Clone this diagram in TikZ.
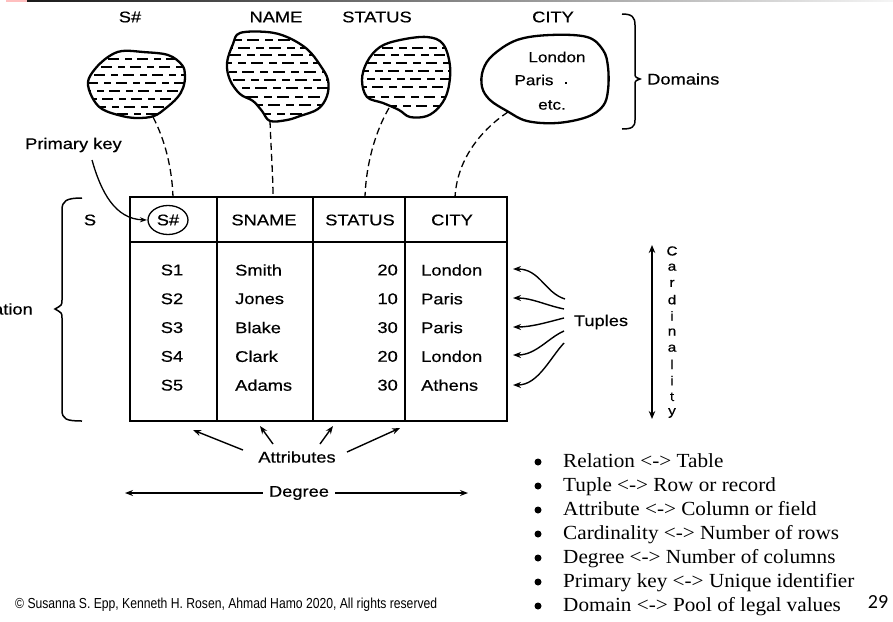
\documentclass[tikz,border=0pt]{standalone}
\usepackage{fontspec}
\setmainfont{Liberation Serif}
\newfontfamily\dsans[FakeStretch=1.18, FakeBold=0.5]{Liberation Sans}
\newfontfamily\listfont[FakeStretch=1.06]{Liberation Serif}
\newfontfamily\carl{Carlito}
\newfontfamily\notefont{Liberation Sans}
\usetikzlibrary{arrows.meta}

\tikzset{
  lbl/.style={font=\dsans\fontsize{15.5}{17}\selectfont, inner sep=0pt},
  small/.style={font=\dsans\fontsize{14.5}{16}\selectfont, inner sep=0pt},
  letter/.style={font=\dsans\fontsize{13}{14}\selectfont, inner sep=0pt},
  blobline/.style={line width=2.3pt, line join=round},
  hatch/.style={line width=1.4pt},
  link/.style={dash pattern=on 7pt off 4pt, line width=1.3pt},
  rule/.style={line width=1.5pt},
  ptr/.style={line width=1.4pt, -{Stealth[length=8pt,width=6pt]}},
  listitem/.style={font=\listfont\fontsize{20}{22}\selectfont, anchor=base west, inner sep=0pt},
}

\begin{document}
\begin{tikzpicture}[x=1pt, y=-1pt]
\useasboundingbox (0,0) rectangle (893,621);
\clip (0,0) rectangle (893,621);
\fill[white] (0,0) rectangle (893,621);

% header rule of the slide
\fill[red!25] (6,0) rectangle (27,1.5);
\shade[left color=black!90, right color=black!4] (27,0) rectangle (893,1.6);

% ---------- domain blobs ----------
% S#
\def\blobS{(108,57) (122,51) (143,52) (168,55) (182,65) (185,76) (183,88) (177,98) (166,108) (154,116) (138,118) (122,116) (102,109) (92,97) (88,82) (95,69)}
\begin{scope}
  \clip plot[smooth cycle, tension=0.6] coordinates {\blobS};
  \foreach \yy [count=\i] in {59,67,75,83,91,99,107,114}
    \draw[hatch, dash pattern=on 11pt off 6pt on 7pt off 5pt, dash phase=\i*7pt] (86,\yy) -- (188,\yy);
\end{scope}
\draw[blobline] plot[smooth cycle, tension=0.6] coordinates {\blobS};

% NAME
\def\blobN{(240,33) (267,32) (287,37) (307,49) (320,65) (328,80) (327,96) (318,109) (300,116) (287,120) (270,121) (262,111) (253,101) (240,94) (230,80) (227,63) (233,44)}
\begin{scope}
  \clip plot[smooth cycle, tension=0.6] coordinates {\blobN};
  \foreach \yy [count=\i] in {40,48,55,63,72,80,88,97,105,114}
    \draw[hatch, dash pattern=on 12pt off 6pt on 8pt off 5pt, dash phase=\i*9pt] (225,\yy) -- (330,\yy);
\end{scope}
\draw[blobline] plot[smooth cycle, tension=0.6] coordinates {\blobN};

% STATUS
\def\blobT{(380,47) (400,40) (427,37) (443,44) (450,66) (448,90) (440,106) (427,116) (410,117) (399,110) (383,103) (367,97) (362,80) (367,62)}
\begin{scope}
  \clip plot[smooth cycle, tension=0.6] coordinates {\blobT};
  \foreach \yy [count=\i] in {48,55,63,71,79,87,97,106}
    \draw[hatch, dash pattern=on 11pt off 6pt on 8pt off 5pt, dash phase=\i*8pt] (360,\yy) -- (452,\yy);
\end{scope}
\draw[blobline] plot[smooth cycle, tension=0.6] coordinates {\blobT};

% CITY
\def\blobC{(493,55) (517,40) (550,35) (587,37) (603,50) (608,67) (608,90) (603,106) (587,117) (557,123) (527,121) (507,111) (490,100) (482,87) (483,70)}
\draw[blobline] plot[smooth cycle, tension=0.6] coordinates {\blobC};
\node[small] (london) at (557,57) {London};
\node[small] (paris) at (534,80) {Paris};
\node[small] (dot) at (566,83) {.};
\node[small] (etc) at (552,105) {etc.};

% domain titles
\node[lbl] (hS) at (130,17) {S\#};
\node[lbl] (hN) at (276,17) {NAME};
\node[lbl] (hT) at (377,17) {STATUS};
\node[lbl] (hC) at (553,17) {CITY};

% domains brace
\draw[line width=1.5pt] (622,14) .. controls (632,14) and (635,17) .. (635,25) -- (635,73)
  .. controls (635,77) .. (640,79) .. controls (635,81) .. (635,85) -- (635,120)
  .. controls (635,127) and (632,129) .. (622,129);
\node[lbl, anchor=west] (dom) at (647,79) {Domains};

% ---------- relation table ----------
\coordinate (tl) at (130,197);
\coordinate (br) at (507,421);
\draw[rule] (tl) rectangle (br);
\draw[rule] (130,242) -- (507,242);
\draw[rule] (217,197) -- (217,421);
\draw[rule] (313,197) -- (313,421);
\draw[line width=2pt] (405,197) -- (405,421);

% column headers
\node[lbl] (kS) at (168,220) {S\#};
\draw[line width=1.3pt] (kS) ellipse (20pt and 14.5pt);
\node[lbl] (kN) at (264,220) {SNAME};
\node[lbl] (kT) at (360,220) {STATUS};
\node[lbl] (kC) at (452,220) {CITY};

% rows
\foreach \id/\nm/\st/\ct [count=\r] in {S1/Smith/20/London, S2/Jones/10/Paris, S3/Blake/30/Paris, S4/Clark/20/London, S5/Adams/30/Athens}{
  \pgfmathsetmacro\yy{270+28.8*(\r-1)}
  \node[lbl] (id\r) at (172,\yy) {\id};
  \node[lbl, anchor=west] (nm\r) at (235,\yy) {\nm};
  \node[lbl, anchor=east] (st\r) at (398,\yy) {\st};
  \node[lbl, anchor=west] (ct\r) at (421,\yy) {\ct};
}

% relation name and brace
\node[lbl] (rS) at (90,220) {S};
\draw[line width=1.5pt] (82,198) .. controls (66,198) and (62,201) .. (62,210) -- (62,300)
  .. controls (62,305) .. (55,309) .. controls (62,313) .. (62,318) -- (62,410)
  .. controls (62,419) and (66,421) .. (82,421);
\node[lbl, anchor=east] (rel) at (33,309) {Relation};

% dashed links from domains to columns
\coordinate (sb) at (153,117);
\coordinate (st) at (173,197);
\coordinate (nb) at (270,121);
\coordinate (nt) at (273,197);
\coordinate (tb) at (389,108);
\coordinate (tt) at (365,197);
\coordinate (cb) at (508,112);
\coordinate (ct) at (455,197);
\draw[link] (sb) .. controls (165,140) and (172,168) .. (st);
\draw[link] (nb) .. controls (271,150) and (273,175) .. (nt);
\draw[link] (tb) .. controls (375,132) and (366,165) .. (tt);
\draw[link] (cb) .. controls (478,132) and (457,162) .. (ct);

% primary key
\node[lbl, anchor=west] (pk) at (25,145) {Primary key};
\coordinate (pks) at (92,160);
\coordinate (pke) at (147,220);
\draw[line width=1.3pt, -{Stealth[length=7pt,width=5pt]}] (pks) .. controls (101,192) and (115,219) .. (pke);

% ---------- tuples ----------
\node[lbl] (tup) at (601,322) {Tuples};
\coordinate (u1) at (565,299); \coordinate (v1) at (513,269);
\coordinate (u2) at (564,309); \coordinate (v2) at (513,298);
\coordinate (u3) at (564,318); \coordinate (v3) at (513,327);
\coordinate (u4) at (564,331); \coordinate (v4) at (513,355);
\coordinate (u5) at (564,343); \coordinate (v5) at (513,385);
\draw[ptr] (u1) .. controls (545,293) and (540,269) .. (v1);
\draw[ptr] (u2) .. controls (545,305) and (532,298) .. (v2);
\draw[ptr] (u3) .. controls (548,322) and (532,327) .. (v3);
\draw[ptr] (u4) .. controls (548,338) and (536,355) .. (v4);
\draw[ptr] (u5) .. controls (550,358) and (538,385) .. (v5);

% ---------- cardinality ----------
\coordinate (c1) at (652,245);
\coordinate (c2) at (652,419);
\draw[line width=2pt, {Stealth[length=8pt,width=6.5pt]}-{Stealth[length=8pt,width=6.5pt]}] (c1) -- (c2);
\foreach \ch [count=\k] in {C,a,r,d,i,n,a,l,i,t,y}{
  \pgfmathsetmacro\yy{251+16.2*(\k-1)}
  \node[letter] (card\k) at (672,\yy) {\ch};
}

% ---------- attributes ----------
\node[lbl] (attr) at (297,457) {Attributes};
\coordinate (a1s) at (243,450); \coordinate (a1e) at (193,430);
\coordinate (a2s) at (273,444); \coordinate (a2e) at (260,426);
\coordinate (a3s) at (320,444); \coordinate (a3e) at (333,426);
\coordinate (a4s) at (347,452); \coordinate (a4e) at (400,428);
\foreach \i in {1,2,3,4} \draw[ptr] (a\i s) -- (a\i e);

% ---------- degree ----------
\node[lbl] (deg) at (299,493) {Degree};
\coordinate (dl) at (125,493);
\coordinate (dr) at (468,493);
\draw[line width=1.2pt, -{Stealth[length=8pt,width=6pt]}] ([xshift=-6pt]deg.west) -- (dl);
\draw[line width=1.2pt, -{Stealth[length=8pt,width=6pt]}] ([xshift=6pt]deg.east) -- (dr);

% ---------- glossary ----------
\foreach \txt [count=\j] in {Relation <-> Table, Tuple <-> Row or record, Attribute <-> Column or field, Cardinality <-> Number of rows, Degree <-> Number of columns, Primary key <-> Unique identifier, Domain <-> Pool of legal values}{
  \pgfmathsetmacro\yy{462+24*(\j-1)}
  \fill (538,\yy) circle (3.5pt);
  \node[listitem] (g\j) at (563,\yy+5.5) {\txt};
}

% ---------- footer ----------
\node[anchor=west, inner sep=0pt] (copy) at (15,605)
  {\resizebox{422pt}{\height}{\notefont\fontsize{14.5}{16}\selectfont \textcopyright{} Susanna S. Epp, Kenneth H. Rosen, Ahmad Hamo 2020, All rights reserved}};
\node[font=\carl\fontsize{20}{22}\selectfont, inner sep=0pt] (pg) at (878,602) {29};
\end{tikzpicture}
\end{document}
